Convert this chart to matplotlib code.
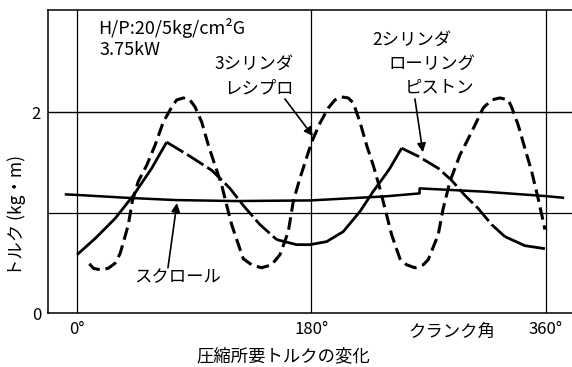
import matplotlib
matplotlib.use("Agg")
import matplotlib.pyplot as plt

plt.rcParams["font.family"] = ["Noto Sans CJK JP", "DejaVu Sans"]

# ---- data: required compression torque vs crank angle ----
# 3-cylinder reciprocating compressor
recip_deg = [9.5, 12.5, 17.7, 24.0, 29.2, 33.0, 35.5, 39.4, 42.4, 47.0, 53.5, 59.9,
             66.2, 72.7, 76.5, 81.6, 86.7, 90.6, 95.7, 100.8, 105.9, 111.1, 114.9,
             118.7, 121.3, 127.6, 134.0, 141.7, 149.4, 155.8, 162.2, 166.0, 171.1,
             180.1, 186.5, 192.9, 198.0, 203.1, 208.2, 212.1, 217.2, 222.3, 227.4,
             232.5, 236.4, 241.5, 247.9, 253.0, 259.4, 265.8, 269.6, 277.3, 281.1,
             286.3, 293.9, 302.9, 311.8, 318.3, 324.6, 331.0, 333.6, 338.7, 343.8,
             349.0, 354.0, 357.9, 359.2]
recip_tq = [0.49, 0.445, 0.43, 0.445, 0.495, 0.59, 0.70, 0.88, 1.11, 1.31, 1.47, 1.67,
            1.90, 2.05, 2.12, 2.14, 2.12, 2.05, 1.90, 1.67, 1.47, 1.27, 1.07,
            0.88, 0.78, 0.54, 0.48, 0.45, 0.48, 0.58, 0.81, 1.11, 1.34,
            1.70, 1.89, 2.04, 2.12, 2.15, 2.14, 2.09, 1.90, 1.67, 1.47,
            1.24, 1.04, 0.78, 0.54, 0.48, 0.45, 0.48, 0.53, 0.78, 1.04,
            1.31, 1.57, 1.80, 2.04, 2.12, 2.14, 2.12, 2.05, 1.87, 1.64,
            1.41, 1.14, 0.91, 0.83]

# 2-cylinder rolling piston compressor
rp_deg = [0.0, 13.8, 29.2, 43.2, 57.3, 68.8, 85.4, 103.4, 113.6, 117.4, 127.6, 140.4,
          153.3, 168.6, 178.8, 191.6, 204.4, 217.2, 227.4, 236.4, 240.2, 249.2, 261.9,
          277.3, 287.6, 297.8, 308.0, 318.3, 328.5, 343.8, 359.2]
rp_tq = [0.58, 0.74, 0.94, 1.17, 1.44, 1.70, 1.57, 1.42, 1.29, 1.24, 1.07, 0.88,
         0.73, 0.68, 0.68, 0.71, 0.81, 1.01, 1.21, 1.37, 1.44, 1.64, 1.56,
         1.44, 1.32, 1.17, 1.04, 0.88, 0.76, 0.67, 0.64]
# stretches of the rolling-piston curve drawn with long dashes (index ranges)
rp_dashed_spans = [(5, 12), (21, 28)]

# scroll compressor
scroll_deg = [-8.5, 0.0, 37.0, 75.0, 121.0, 179.0, 236.0, 263.0, 263.0, 313.0, 359.0, 373.0]
scroll_tq = [1.18, 1.175, 1.147, 1.124, 1.114, 1.12, 1.16, 1.19, 1.24, 1.207, 1.164, 1.147]

x_ticks = [0, 180, 360]
x_tick_labels = ["0°", "180°", "360°"]
y_ticks = [0, 2]
y_tick_labels = ["0", "2"]
grid_x = [0, 180, 360]
grid_y = [1, 2]

# ---- figure ----
W, H = 572, 367
fig = plt.figure(figsize=(W / 100, H / 100), dpi=100)
ax = fig.add_axes([48 / W, 1 - 313 / H, 1 - 48 / W, (313 - 10) / H])
ax.set_xlim(-22.3, 380)
ax.set_ylim(0, 3.015)

for gx in grid_x:
    ax.axvline(gx, color="black", lw=0.9, zorder=1)
for gy in grid_y:
    ax.axhline(gy, color="black", lw=1.0 if gy == 2 else 0.9, zorder=1)

for side in ("left", "top", "bottom"):
    ax.spines[side].set_linewidth(1.1)
ax.spines["right"].set_visible(False)

ax.set_xticks(x_ticks, x_tick_labels)
ax.set_yticks(y_ticks, y_tick_labels)
ax.tick_params(axis="x", length=0, pad=6, labelsize=12)
ax.tick_params(axis="y", length=0, pad=5, labelsize=12)

# curves
ax.plot(recip_deg, recip_tq, color="black", lw=2.2,
        linestyle=(0, (4.1, 1.9)), dash_capstyle="butt", zorder=3)

solid_breaks = [0]
for a, b in rp_dashed_spans:
    solid_breaks += [a, b]
solid_breaks.append(len(rp_deg) - 1)
for i in range(0, len(solid_breaks), 2):
    s, e = solid_breaks[i], solid_breaks[i + 1]
    ax.plot(rp_deg[s:e + 1], rp_tq[s:e + 1], color="black", lw=2.0,
            solid_capstyle="butt", zorder=3)
for a, b in rp_dashed_spans:
    ax.plot(rp_deg[a:b + 1], rp_tq[a:b + 1], color="black", lw=2.0,
            linestyle=(0, (7, 1.6)), dash_capstyle="butt", zorder=3)

ax.plot(scroll_deg, scroll_tq, color="black", lw=1.8, zorder=3)


def px(x, y):
    return x / W, 1 - y / H


# annotations
fig.text(*px(98, 28), "H/P:20/5kg/cm²G", fontsize=13, ha="left", va="center")
fig.text(*px(100, 50), "3.75kW", fontsize=13, ha="left", va="center")

fig.text(*px(294, 64), "3シリンダ", fontsize=12.5, ha="right", va="center")
fig.text(*px(294, 88), "レシプロ", fontsize=12.5, ha="right", va="center")

fig.text(*px(372, 40), "2シリンダ", fontsize=12.5, ha="left", va="center")
fig.text(*px(388, 64), "ローリング", fontsize=12.5, ha="left", va="center")
fig.text(*px(405, 88), "ピストン", fontsize=12.5, ha="left", va="center")

fig.text(*px(178, 277), "スクロール", fontsize=12.5, ha="center", va="center")

arrow = dict(arrowstyle="-|>", color="black", lw=1.2, mutation_scale=13,
             shrinkA=0, shrinkB=0)
ax.annotate("", xy=(181.1, 1.76), xytext=(159.6, 2.13), arrowprops=arrow)
ax.annotate("", xy=(265.5, 1.60), xytext=(259.4, 2.13), arrowprops=arrow)
ax.annotate("", xy=(76.7, 1.094), xytext=(69.8, 0.45), arrowprops=arrow)

fig.text(*px(452, 332), "クランク角", fontsize=12.5, ha="center", va="center")
fig.text(*px(283, 356), "圧縮所要トルクの変化", fontsize=12.5, ha="center", va="center")
fig.text(*px(17, 216), "トルク (kg・m)", fontsize=12.5, ha="center", va="center",
         rotation=90)

fig.savefig("out.png", dpi=100, facecolor="white")
